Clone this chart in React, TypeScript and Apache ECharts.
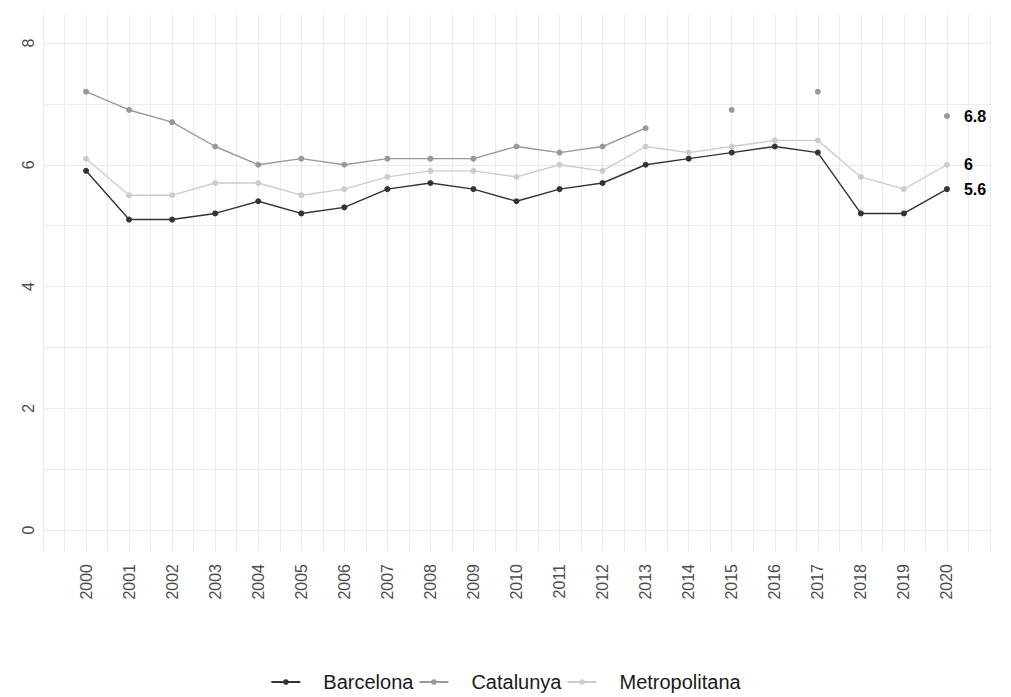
import React, { useEffect, useRef } from "react";
import * as echarts from "echarts";

const years = [2000, 2001, 2002, 2003, 2004, 2005, 2006, 2007, 2008, 2009, 2010, 2011, 2012, 2013, 2014, 2015, 2016, 2017, 2018, 2019, 2020];
const barcelona = [5.9, 5.1, 5.1, 5.2, 5.4, 5.2, 5.3, 5.6, 5.7, 5.6, 5.4, 5.6, 5.7, 6.0, 6.1, 6.2, 6.3, 6.2, 5.2, 5.2, 5.6];
const catalunya = [7.2, 6.9, 6.7, 6.3, 6.0, 6.1, 6.0, 6.1, 6.1, 6.1, 6.3, 6.2, 6.3, 6.6, null, 6.9, null, 7.2, null, null, 6.8];
const metropolitana = [6.1, 5.5, 5.5, 5.7, 5.7, 5.5, 5.6, 5.8, 5.9, 5.9, 5.8, 6.0, 5.9, 6.3, 6.2, 6.3, 6.4, 6.4, 5.8, 5.6, 6.0];
const yTicks = [0, 2, 4, 6, 8];
const seriesNames = ["Barcelona", "Catalunya", "Metropolitana"];
const seriesColors = ["#333333", "#999999", "#cccccc"];

const FONT = "Liberation Sans, Arial, sans-serif";

function buildData(values: (number | null)[]) {
  const last = values.length - 1;
  return values.map((v, i) => {
    if (i === last && v != null) {
      return {
        value: [years[i], v],
        label: {
          show: true,
          position: "right",
          distance: 14,
          formatter: () => String(v),
          fontFamily: FONT,
          fontWeight: "bold",
          fontSize: 16,
          color: "#000000",
        },
      };
    }
    return [years[i], v];
  });
}

export default function App() {
  const ref = useRef<HTMLDivElement>(null);
  useEffect(() => {
    if (!ref.current) return;
    const chart = echarts.init(ref.current, null, { renderer: "svg" });
    const grid = "#ebebeb";
    const allSeries = [barcelona, catalunya, metropolitana];
    chart.setOption({
      animation: false,
      backgroundColor: "#ffffff",
      textStyle: { fontFamily: FONT },
      grid: [
        { left: 43, right: 21, top: 15, bottom: 146 },
        { left: 43, right: 21, top: 43, bottom: 167 },
      ],
      xAxis: [
        {
          type: "value",
          gridIndex: 0,
          min: 1999,
          max: 2021,
          interval: 0.5,
          axisLine: { show: false },
          axisTick: { show: false },
          splitLine: { show: true, lineStyle: { color: grid, width: 1 } },
          axisLabel: {
            rotate: 90,
            margin: 13,
            fontSize: 16,
            color: "#4d4d4d",
            fontFamily: FONT,
            showMinLabel: true,
            showMaxLabel: true,
            formatter: (v: number) => (Number.isInteger(v) && years.includes(v) ? String(v) : ""),
          },
        },
        {
          type: "value",
          gridIndex: 1,
          min: 1999,
          max: 2021,
          show: false,
          splitLine: { show: false },
        },
      ],
      yAxis: [
        {
          type: "value",
          gridIndex: 0,
          min: 0,
          max: 1,
          show: false,
          splitLine: { show: false },
        },
        {
          type: "value",
          gridIndex: 1,
          min: 0,
          max: 8,
          interval: 1,
          axisLine: { show: false },
          axisTick: { show: false },
          splitLine: { show: true, lineStyle: { color: grid, width: 1 } },
          axisLabel: {
            rotate: 90,
            margin: 7,
            fontSize: 16,
            color: "#4d4d4d",
            fontFamily: FONT,
            formatter: (v: number) => (yTicks.includes(v) ? String(v) : ""),
          },
        },
      ],
      legend: {
        bottom: 0,
        left: "center",
        itemWidth: 29,
        itemHeight: 7,
        itemGap: 5,
        textStyle: { fontSize: 20, color: "#1a1a1a", fontFamily: FONT, padding: [0, 0, 0, 18] },
        data: seriesNames,
      },
      series: allSeries.map((vals, k) => ({
        name: seriesNames[k],
        type: "line",
        xAxisIndex: 1,
        yAxisIndex: 1,
        data: buildData(vals),
        connectNulls: false,
        showSymbol: true,
        symbol: "circle",
        symbolSize: 6,
        lineStyle: { color: seriesColors[k], width: 1.4 },
        itemStyle: { color: seriesColors[k] },
        z: 3 - k,
      })),
    });
    return () => chart.dispose();
  }, []);
  return (
    <div
      ref={ref}
      style={{ position: "fixed", left: 0, top: 0, width: 1011, height: 697 }}
    />
  );
}
